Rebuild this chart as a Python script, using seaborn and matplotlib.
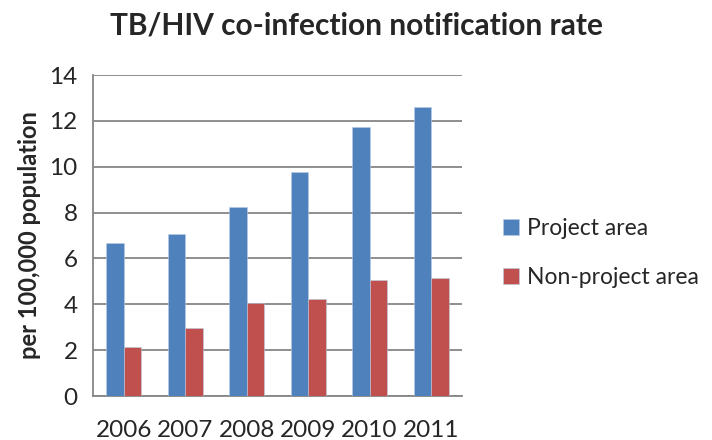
import matplotlib.pyplot as plt
import seaborn as sns
import pandas as pd

years = ["2006", "2007", "2008", "2009", "2010", "2011"]
project_area = [6.68, 7.08, 8.23, 9.78, 11.75, 12.59]
non_project_area = [2.12, 2.98, 4.04, 4.22, 5.08, 5.14]
series_names = ["Project area", "Non-project area"]
colors = ["#4F81BD", "#C0504D"]

df = pd.DataFrame({
    "year": years * 2,
    "rate": project_area + non_project_area,
    "area": [series_names[0]] * len(years) + [series_names[1]] * len(years),
})

sns.set_style("white")
plt.rcParams["font.family"] = ["Lato", "DejaVu Sans"]

fig = plt.figure(figsize=(7.12, 4.4), dpi=100)
ax = fig.add_axes([0.1306, 0.1, 0.518, 0.7295])

sns.barplot(data=df, x="year", y="rate", hue="area", palette=colors,
            width=0.57, saturation=1, ax=ax, zorder=3,
            edgecolor="#B8CCE4", linewidth=0.4)

ax.set_ylim(0, 14)
ax.set_yticks(range(0, 15, 2))
ax.set_xlim(-0.5, 5.5)
ax.yaxis.grid(True, color="#868686", linewidth=1.3, zorder=0)
ax.set_axisbelow(True)

for side in ["top", "right"]:
    ax.spines[side].set_visible(False)
ax.spines["left"].set_color("#868686")
ax.spines["bottom"].set_color("#868686")
ax.spines["left"].set_linewidth(1.3)
ax.spines["bottom"].set_linewidth(1.3)

# ticks between categories on x axis
ax.set_xticks([i - 0.5 for i in range(len(years) + 1)], minor=True)
ax.tick_params(axis="x", which="minor", length=6, color="#868686", width=1.3, direction="out")
ax.tick_params(axis="x", which="major", length=0, labelsize=17.5, pad=17)
ax.tick_params(axis="y", length=5, color="#868686", width=1.3, direction="out", labelsize=17.5, pad=6)

ax.set_xlabel("")
ax.set_ylabel("per 100,000 population", fontsize=17, fontweight="bold", labelpad=6)
fig.suptitle("TB/HIV co-infection notification rate", x=0.5, y=0.975,
             fontsize=21.5, fontweight="bold")

ax.legend(loc="center left", bbox_to_anchor=(1.08, 0.445), frameon=False,
          fontsize=16.5, handlelength=0.7, handleheight=0.7, labelspacing=1.2,
          handletextpad=0.35, borderpad=0)

fig.savefig("out.png", dpi=100)
